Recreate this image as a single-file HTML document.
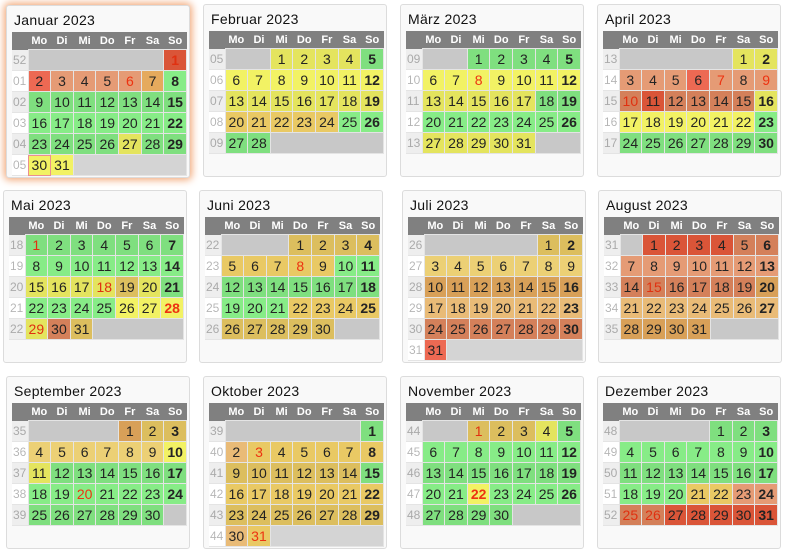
<!DOCTYPE html>
<html><head><meta charset="utf-8"><style>
body{margin:0;width:788px;height:559px;background:#fff;font-family:"Liberation Sans",sans-serif;position:relative;overflow:hidden}
.p{position:absolute;width:184px;height:173px;border:1px solid #dcdcdc;border-radius:3px;background:#f9f9f9;box-sizing:border-box}
.p h{position:absolute;left:7px;top:6px;font-size:14px;color:#111;letter-spacing:.3px}
table{position:absolute;left:5px;top:26px;width:175px;border-collapse:collapse;table-layout:fixed}
th{background:#808080;color:#fff;font-size:11px;font-weight:bold;height:17px;padding:0;text-align:center}
th.w{width:16px}
td{height:20px;padding:0;text-align:center;font-size:14px;color:#222;border:1px solid #e4e4e4}
td.w{font-size:12px;color:#aaa;background:#eee;border:none;border-bottom:1px solid #e4e4e4;text-align:left;padding-left:1px}
tbody tr:nth-child(even) td.w{background:#fff}
tbody tr:nth-child(even) td{filter:brightness(1.06)}
.e{background:#c8c8c8}
.g{background:#7fdf7f}.y{background:#e4e45e}.k{background:#dcbe5e}.K{background:#dfc46e}
.t{background:#d8a058}.T{background:#dcb070}.o{background:#d4805a}.O{background:#d8926e}
.r{background:#e0634e}.R{background:#da5538}
.s{font-weight:bold}.x{color:#e03010}
</style></head><body>

<div class="p" style="left:6px;top:5px;box-shadow:0 0 8px 2px #f2a878"><h>Januar 2023</h>
<table><thead><tr><th class="w"></th><th>Mo</th><th>Di</th><th>Mi</th><th>Do</th><th>Fr</th><th>Sa</th><th>So</th></tr></thead><tbody>
<tr><td class="w">52</td><td class="e" colspan="6"></td><td class="R s x">1</td></tr>
<tr><td class="w">01</td><td class="r">2</td><td class="O">3</td><td class="O">4</td><td class="O">5</td><td class="O x">6</td><td class="t">7</td><td class="g s">8</td></tr>
<tr><td class="w">02</td><td class="g">9</td><td class="g">10</td><td class="g">11</td><td class="g">12</td><td class="g">13</td><td class="g">14</td><td class="g s">15</td></tr>
<tr><td class="w">03</td><td class="g">16</td><td class="g">17</td><td class="g">18</td><td class="g">19</td><td class="g">20</td><td class="g">21</td><td class="g s">22</td></tr>
<tr><td class="w">04</td><td class="g">23</td><td class="g">24</td><td class="g">25</td><td class="g">26</td><td class="y">27</td><td class="g">28</td><td class="g s">29</td></tr>
<tr><td class="w">05</td><td class="y" style="outline:1px solid #d88;outline-offset:-1px">30</td><td class="y">31</td><td class="e" colspan="5"></td></tr>
</tbody></table></div>

<div class="p" style="left:203px;top:4px"><h>Februar 2023</h>
<table><thead><tr><th class="w"></th><th>Mo</th><th>Di</th><th>Mi</th><th>Do</th><th>Fr</th><th>Sa</th><th>So</th></tr></thead><tbody>
<tr><td class="w">05</td><td class="e" colspan="2"></td><td class="y">1</td><td class="y">2</td><td class="y">3</td><td class="y">4</td><td class="g s">5</td></tr>
<tr><td class="w">06</td><td class="y">6</td><td class="y">7</td><td class="y">8</td><td class="y">9</td><td class="y">10</td><td class="y">11</td><td class="y s">12</td></tr>
<tr><td class="w">07</td><td class="y">13</td><td class="y">14</td><td class="y">15</td><td class="y">16</td><td class="y">17</td><td class="y">18</td><td class="y s">19</td></tr>
<tr><td class="w">08</td><td class="k">20</td><td class="k">21</td><td class="k">22</td><td class="k">23</td><td class="k">24</td><td class="g">25</td><td class="g s">26</td></tr>
<tr><td class="w">09</td><td class="g">27</td><td class="g">28</td><td class="e" colspan="5"></td></tr>
</tbody></table></div>

<div class="p" style="left:400px;top:4px"><h>März 2023</h>
<table><thead><tr><th class="w"></th><th>Mo</th><th>Di</th><th>Mi</th><th>Do</th><th>Fr</th><th>Sa</th><th>So</th></tr></thead><tbody>
<tr><td class="w">09</td><td class="e" colspan="2"></td><td class="g">1</td><td class="g">2</td><td class="g">3</td><td class="g">4</td><td class="g s">5</td></tr>
<tr><td class="w">10</td><td class="y">6</td><td class="y">7</td><td class="y x">8</td><td class="y">9</td><td class="y">10</td><td class="y">11</td><td class="y s">12</td></tr>
<tr><td class="w">11</td><td class="y">13</td><td class="y">14</td><td class="y">15</td><td class="y">16</td><td class="y">17</td><td class="g">18</td><td class="g s">19</td></tr>
<tr><td class="w">12</td><td class="g">20</td><td class="g">21</td><td class="g">22</td><td class="g">23</td><td class="g">24</td><td class="g">25</td><td class="g s">26</td></tr>
<tr><td class="w">13</td><td class="y">27</td><td class="y">28</td><td class="y">29</td><td class="y">30</td><td class="y">31</td><td class="e" colspan="2"></td></tr>
</tbody></table></div>

<div class="p" style="left:597px;top:4px"><h>April 2023</h>
<table><thead><tr><th class="w"></th><th>Mo</th><th>Di</th><th>Mi</th><th>Do</th><th>Fr</th><th>Sa</th><th>So</th></tr></thead><tbody>
<tr><td class="w">13</td><td class="e" colspan="5"></td><td class="y">1</td><td class="y s">2</td></tr>
<tr><td class="w">14</td><td class="O">3</td><td class="O">4</td><td class="O">5</td><td class="r">6</td><td class="O x">7</td><td class="O">8</td><td class="O x">9</td></tr>
<tr><td class="w">15</td><td class="o x">10</td><td class="R">11</td><td class="o">12</td><td class="o">13</td><td class="o">14</td><td class="o">15</td><td class="y s">16</td></tr>
<tr><td class="w">16</td><td class="y">17</td><td class="y">18</td><td class="y">19</td><td class="y">20</td><td class="y">21</td><td class="y">22</td><td class="g s">23</td></tr>
<tr><td class="w">17</td><td class="g">24</td><td class="g">25</td><td class="g">26</td><td class="g">27</td><td class="g">28</td><td class="g">29</td><td class="g s">30</td></tr>
</tbody></table></div>

<div class="p" style="left:3px;top:190px"><h>Mai 2023</h>
<table><thead><tr><th class="w"></th><th>Mo</th><th>Di</th><th>Mi</th><th>Do</th><th>Fr</th><th>Sa</th><th>So</th></tr></thead><tbody>
<tr><td class="w">18</td><td class="g x">1</td><td class="g">2</td><td class="g">3</td><td class="g">4</td><td class="g">5</td><td class="g">6</td><td class="g s">7</td></tr>
<tr><td class="w">19</td><td class="g">8</td><td class="g">9</td><td class="g">10</td><td class="g">11</td><td class="g">12</td><td class="g">13</td><td class="g s">14</td></tr>
<tr><td class="w">20</td><td class="y">15</td><td class="y">16</td><td class="y">17</td><td class="y x">18</td><td class="k">19</td><td class="y">20</td><td class="g s">21</td></tr>
<tr><td class="w">21</td><td class="g">22</td><td class="g">23</td><td class="g">24</td><td class="g">25</td><td class="y">26</td><td class="y">27</td><td class="y s x">28</td></tr>
<tr><td class="w">22</td><td class="y x">29</td><td class="o">30</td><td class="k">31</td><td class="e" colspan="4"></td></tr>
</tbody></table></div>

<div class="p" style="left:199px;top:190px"><h>Juni 2023</h>
<table><thead><tr><th class="w"></th><th>Mo</th><th>Di</th><th>Mi</th><th>Do</th><th>Fr</th><th>Sa</th><th>So</th></tr></thead><tbody>
<tr><td class="w">22</td><td class="e" colspan="3"></td><td class="k">1</td><td class="k">2</td><td class="k">3</td><td class="k s">4</td></tr>
<tr><td class="w">23</td><td class="k">5</td><td class="k">6</td><td class="k">7</td><td class="k x">8</td><td class="k">9</td><td class="g">10</td><td class="g s">11</td></tr>
<tr><td class="w">24</td><td class="g">12</td><td class="g">13</td><td class="g">14</td><td class="g">15</td><td class="g">16</td><td class="g">17</td><td class="g s">18</td></tr>
<tr><td class="w">25</td><td class="g">19</td><td class="g">20</td><td class="g">21</td><td class="k">22</td><td class="k">23</td><td class="k">24</td><td class="k s">25</td></tr>
<tr><td class="w">26</td><td class="k">26</td><td class="k">27</td><td class="k">28</td><td class="k">29</td><td class="k">30</td><td class="e" colspan="2"></td></tr>
</tbody></table></div>

<div class="p" style="left:402px;top:190px"><h>Juli 2023</h>
<table><thead><tr><th class="w"></th><th>Mo</th><th>Di</th><th>Mi</th><th>Do</th><th>Fr</th><th>Sa</th><th>So</th></tr></thead><tbody>
<tr><td class="w">26</td><td class="e" colspan="5"></td><td class="k">1</td><td class="k s">2</td></tr>
<tr><td class="w">27</td><td class="K">3</td><td class="K">4</td><td class="K">5</td><td class="K">6</td><td class="K">7</td><td class="K">8</td><td class="K">9</td></tr>
<tr><td class="w">28</td><td class="t">10</td><td class="t">11</td><td class="t">12</td><td class="t">13</td><td class="t">14</td><td class="t">15</td><td class="t s">16</td></tr>
<tr><td class="w">29</td><td class="T">17</td><td class="T">18</td><td class="T">19</td><td class="T">20</td><td class="T">21</td><td class="T">22</td><td class="T s">23</td></tr>
<tr><td class="w">30</td><td class="o">24</td><td class="o">25</td><td class="o">26</td><td class="o">27</td><td class="o">28</td><td class="o">29</td><td class="o s">30</td></tr>
<tr><td class="w">31</td><td class="r">31</td><td class="e" colspan="6"></td></tr>
</tbody></table></div>

<div class="p" style="left:598px;top:190px"><h>August 2023</h>
<table><thead><tr><th class="w"></th><th>Mo</th><th>Di</th><th>Mi</th><th>Do</th><th>Fr</th><th>Sa</th><th>So</th></tr></thead><tbody>
<tr><td class="w">31</td><td class="e"></td><td class="R">1</td><td class="R">2</td><td class="R">3</td><td class="R">4</td><td class="o">5</td><td class="o s">6</td></tr>
<tr><td class="w">32</td><td class="O">7</td><td class="O">8</td><td class="O">9</td><td class="O">10</td><td class="O">11</td><td class="O">12</td><td class="O s">13</td></tr>
<tr><td class="w">33</td><td class="o">14</td><td class="o x">15</td><td class="o">16</td><td class="o">17</td><td class="o">18</td><td class="o">19</td><td class="t s">20</td></tr>
<tr><td class="w">34</td><td class="T">21</td><td class="T">22</td><td class="T">23</td><td class="T">24</td><td class="T">25</td><td class="T">26</td><td class="T s">27</td></tr>
<tr><td class="w">35</td><td class="t">28</td><td class="t">29</td><td class="t">30</td><td class="t">31</td><td class="e" colspan="3"></td></tr>
</tbody></table></div>

<div class="p" style="left:6px;top:376px"><h>September 2023</h>
<table><thead><tr><th class="w"></th><th>Mo</th><th>Di</th><th>Mi</th><th>Do</th><th>Fr</th><th>Sa</th><th>So</th></tr></thead><tbody>
<tr><td class="w">35</td><td class="e" colspan="4"></td><td class="t">1</td><td class="k">2</td><td class="k s">3</td></tr>
<tr><td class="w">36</td><td class="K">4</td><td class="K">5</td><td class="K">6</td><td class="K">7</td><td class="K">8</td><td class="K">9</td><td class="y s">10</td></tr>
<tr><td class="w">37</td><td class="y">11</td><td class="g">12</td><td class="g">13</td><td class="g">14</td><td class="g">15</td><td class="g">16</td><td class="g s">17</td></tr>
<tr><td class="w">38</td><td class="g">18</td><td class="g">19</td><td class="g x">20</td><td class="g">21</td><td class="g">22</td><td class="g">23</td><td class="g s">24</td></tr>
<tr><td class="w">39</td><td class="g">25</td><td class="g">26</td><td class="g">27</td><td class="g">28</td><td class="g">29</td><td class="g">30</td><td class="e"></td></tr>
</tbody></table></div>

<div class="p" style="left:203px;top:376px"><h>Oktober 2023</h>
<table><thead><tr><th class="w"></th><th>Mo</th><th>Di</th><th>Mi</th><th>Do</th><th>Fr</th><th>Sa</th><th>So</th></tr></thead><tbody>
<tr><td class="w">39</td><td class="e" colspan="6"></td><td class="g s">1</td></tr>
<tr><td class="w">40</td><td class="T">2</td><td class="k x">3</td><td class="k">4</td><td class="k">5</td><td class="k">6</td><td class="k">7</td><td class="k s">8</td></tr>
<tr><td class="w">41</td><td class="k">9</td><td class="k">10</td><td class="k">11</td><td class="k">12</td><td class="k">13</td><td class="k">14</td><td class="g s">15</td></tr>
<tr><td class="w">42</td><td class="k">16</td><td class="k">17</td><td class="k">18</td><td class="k">19</td><td class="k">20</td><td class="k">21</td><td class="k s">22</td></tr>
<tr><td class="w">43</td><td class="k">23</td><td class="k">24</td><td class="k">25</td><td class="k">26</td><td class="k">27</td><td class="k">28</td><td class="k s">29</td></tr>
<tr><td class="w">44</td><td class="T">30</td><td class="k x">31</td><td class="e" colspan="5"></td></tr>
</tbody></table></div>

<div class="p" style="left:400px;top:376px"><h>November 2023</h>
<table><thead><tr><th class="w"></th><th>Mo</th><th>Di</th><th>Mi</th><th>Do</th><th>Fr</th><th>Sa</th><th>So</th></tr></thead><tbody>
<tr><td class="w">44</td><td class="e" colspan="2"></td><td class="k x">1</td><td class="k">2</td><td class="k">3</td><td class="y">4</td><td class="g s">5</td></tr>
<tr><td class="w">45</td><td class="g">6</td><td class="g">7</td><td class="g">8</td><td class="g">9</td><td class="g">10</td><td class="g">11</td><td class="g s">12</td></tr>
<tr><td class="w">46</td><td class="g">13</td><td class="g">14</td><td class="g">15</td><td class="g">16</td><td class="g">17</td><td class="g">18</td><td class="g s">19</td></tr>
<tr><td class="w">47</td><td class="g">20</td><td class="g">21</td><td class="y x s">22</td><td class="g">23</td><td class="g">24</td><td class="g">25</td><td class="g s">26</td></tr>
<tr><td class="w">48</td><td class="g">27</td><td class="g">28</td><td class="g">29</td><td class="g">30</td><td class="e" colspan="3"></td></tr>
</tbody></table></div>

<div class="p" style="left:597px;top:376px"><h>Dezember 2023</h>
<table><thead><tr><th class="w"></th><th>Mo</th><th>Di</th><th>Mi</th><th>Do</th><th>Fr</th><th>Sa</th><th>So</th></tr></thead><tbody>
<tr><td class="w">48</td><td class="e" colspan="4"></td><td class="g">1</td><td class="g">2</td><td class="g s">3</td></tr>
<tr><td class="w">49</td><td class="g">4</td><td class="g">5</td><td class="g">6</td><td class="g">7</td><td class="g">8</td><td class="g">9</td><td class="g s">10</td></tr>
<tr><td class="w">50</td><td class="g">11</td><td class="g">12</td><td class="g">13</td><td class="g">14</td><td class="g">15</td><td class="g">16</td><td class="g s">17</td></tr>
<tr><td class="w">51</td><td class="g">18</td><td class="g">19</td><td class="g">20</td><td class="k">21</td><td class="k">22</td><td class="O">23</td><td class="O s">24</td></tr>
<tr><td class="w">52</td><td class="o x">25</td><td class="o x">26</td><td class="R">27</td><td class="R">28</td><td class="R">29</td><td class="R">30</td><td class="R s">31</td></tr>
</tbody></table></div>

</body></html>
